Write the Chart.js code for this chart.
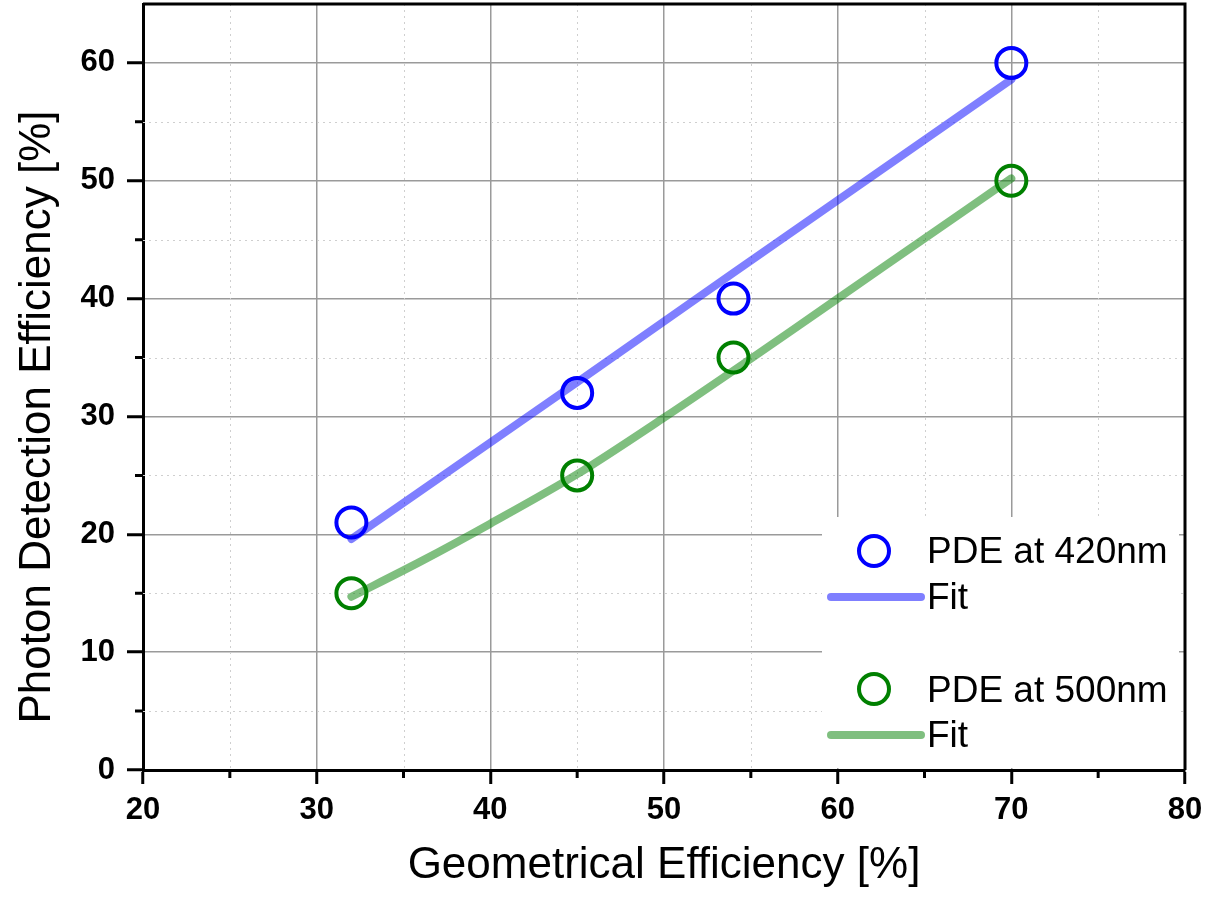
<!DOCTYPE html>
<html>
<head>
<meta charset="utf-8">
<script src="https://cdn.jsdelivr.net/npm/chart.js@4.4.0/dist/chart.umd.min.js"></script>
<style>
  html, body { margin: 0; padding: 0; background: #fff; }
  #wrap { width: 1206px; height: 901px; }
</style>
</head>
<body>
<div id="wrap"><canvas id="pdeChart"></canvas></div>
<script>
// measured points
const geoEff = [32, 45, 54, 70];
const pde420 = [21, 32, 40, 60];
const pde500 = [15, 25, 35, 50];

// fit curves
const fit420X = [32, 45, 54, 70];
const fit420Y = [19.6, 32.9, 42.2, 58.6];
const fit500X = [32, 36, 40, 45, 50, 55, 60, 65, 70];
const fit500Y = [14.7, 17.7, 20.9, 25.1, 29.9, 34.9, 40.0, 45.1, 50.2];

const xTicks = [20, 30, 40, 50, 60, 70, 80];
const yTicks = [0, 10, 20, 30, 40, 50, 60];
const xMinor = [25, 35, 45, 55, 65, 75];
const yMinor = [5, 15, 25, 35, 45, 55];

const FONT = "'Liberation Sans', Arial, Helvetica, sans-serif";

const toXY = (xs, ys) => xs.map((x, i) => ({ x: x, y: ys[i] }));

const extras = {
  id: 'extras',
  beforeDatasetsDraw(chart) {
    const { ctx, chartArea: a, scales: { x, y } } = chart;
    ctx.save();
    // minor dotted grid
    ctx.strokeStyle = '#cfcfcf';
    ctx.lineWidth = 1;
    ctx.setLineDash([2, 4]);
    ctx.beginPath();
    xMinor.forEach(v => {
      const px = Math.round(x.getPixelForValue(v)) + 0.5;
      ctx.moveTo(px, a.top); ctx.lineTo(px, a.bottom);
    });
    yMinor.forEach(v => {
      const py = Math.round(y.getPixelForValue(v)) + 0.5;
      ctx.moveTo(a.left, py); ctx.lineTo(a.right, py);
    });
    ctx.stroke();
    ctx.setLineDash([]);
    // minor ticks
    ctx.strokeStyle = '#000';
    ctx.lineWidth = 3;
    ctx.beginPath();
    xMinor.forEach(v => {
      const px = x.getPixelForValue(v);
      ctx.moveTo(px, a.bottom); ctx.lineTo(px, a.bottom + 8);
    });
    yMinor.forEach(v => {
      const py = y.getPixelForValue(v);
      ctx.moveTo(a.left - 8, py); ctx.lineTo(a.left, py);
    });
    ctx.stroke();
    ctx.restore();
  },
  afterDraw(chart) {
    const { ctx, chartArea: a } = chart;
    const ds = chart.data.datasets;
    ctx.save();

    // legend box
    const bx = a.right - 363, by = a.bottom - 253;
    ctx.fillStyle = '#fff';
    ctx.fillRect(bx, by, 357, 251);

    ctx.font = '37px ' + FONT;
    ctx.textAlign = 'left';
    ctx.textBaseline = 'alphabetic';
    const tx = bx + 105;
    const rows = [
      { ds: ds[0], kind: 'pt', y: by + 34, base: by + 46 },
      { ds: ds[2], kind: 'ln', y: by + 80, base: by + 92 },
      { ds: ds[1], kind: 'pt', y: by + 172, base: by + 185 },
      { ds: ds[3], kind: 'ln', y: by + 218, base: by + 230 }
    ];
    rows.forEach(r => {
      if (r.kind === 'pt') {
        ctx.beginPath();
        ctx.arc(bx + 52, r.y, 15, 0, Math.PI * 2);
        ctx.lineWidth = 4;
        ctx.strokeStyle = r.ds.borderColor;
        ctx.stroke();
      } else {
        ctx.beginPath();
        ctx.moveTo(bx + 9, r.y);
        ctx.lineTo(bx + 99, r.y);
        ctx.lineWidth = 8;
        ctx.lineCap = 'round';
        ctx.strokeStyle = r.ds.borderColor;
        ctx.stroke();
      }
      ctx.fillStyle = '#000';
      ctx.fillText(r.ds.label, tx, r.base);
    });

    // top and right frame
    ctx.strokeStyle = '#000';
    ctx.lineWidth = 3;
    ctx.lineCap = 'butt';
    ctx.beginPath();
    ctx.moveTo(a.left, a.top);
    ctx.lineTo(a.right, a.top);
    ctx.lineTo(a.right, a.bottom);
    ctx.stroke();

    // axis titles
    ctx.fillStyle = '#000';
    ctx.font = '44px ' + FONT;
    ctx.textAlign = 'center';
    ctx.fillText('Geometrical Efficiency [%]', (a.left + a.right) / 2, 878);
    ctx.save();
    ctx.translate(50, (a.top + a.bottom) / 2 + 30);
    ctx.rotate(-Math.PI / 2);
    ctx.fillText('Photon Detection Efficiency [%]', 0, 0);
    ctx.restore();

    ctx.restore();
  }
};

new Chart(document.getElementById('pdeChart').getContext('2d'), {
  type: 'scatter',
  data: {
    datasets: [
      {
        label: 'PDE at 420nm',
        data: toXY(geoEff, pde420),
        borderColor: '#0000ff',
        backgroundColor: 'rgba(0,0,0,0)',
        pointRadius: 15,
        pointBorderWidth: 4,
        pointHoverRadius: 15,
        showLine: false
      },
      {
        label: 'PDE at 500nm',
        data: toXY(geoEff, pde500),
        borderColor: '#008000',
        backgroundColor: 'rgba(0,0,0,0)',
        pointRadius: 15,
        pointBorderWidth: 4,
        pointHoverRadius: 15,
        showLine: false
      },
      {
        label: 'Fit',
        data: toXY(fit420X, fit420Y),
        borderColor: 'rgba(0,0,255,0.5)',
        borderWidth: 8,
        borderCapStyle: 'round',
        pointRadius: 0,
        showLine: true,
        tension: 0
      },
      {
        label: 'Fit',
        data: toXY(fit500X, fit500Y),
        borderColor: 'rgba(0,128,0,0.5)',
        borderWidth: 8,
        borderCapStyle: 'round',
        pointRadius: 0,
        showLine: true,
        tension: 0.3
      }
    ]
  },
  options: {
    responsive: true,
    maintainAspectRatio: false,
    animation: false,
    layout: { autoPadding: false, padding: { top: 4, right: 21, left: 0, bottom: 0 } },
    plugins: { legend: { display: false }, tooltip: { enabled: false } },
    scales: {
      x: {
        type: 'linear',
        min: 20,
        max: 80,
        afterBuildTicks: s => { s.ticks = xTicks.map(v => ({ value: v })); },
        afterFit: s => { s.height = 131; s.paddingLeft = 0; s.paddingRight = 0; },
        grid: { color: '#9a9a9a', lineWidth: 1.5, tickColor: '#000', tickLength: 14, tickWidth: 3 },
        border: { color: '#000', width: 3 },
        ticks: { font: { family: FONT, size: 31, weight: 'bold' }, color: '#000', padding: 8, maxRotation: 0 }
      },
      y: {
        type: 'linear',
        min: 0,
        max: 65,
        afterBuildTicks: s => { s.ticks = yTicks.map(v => ({ value: v })); },
        afterFit: s => { s.width = 143; s.paddingTop = 0; s.paddingBottom = 0; },
        grid: { color: '#9a9a9a', lineWidth: 1.5, tickColor: '#000', tickLength: 16, tickWidth: 3 },
        border: { color: '#000', width: 3 },
        ticks: { font: { family: FONT, size: 31, weight: 'bold' }, color: '#000', padding: 12 }
      }
    }
  },
  plugins: [extras]
});
</script>
</body>
</html>
